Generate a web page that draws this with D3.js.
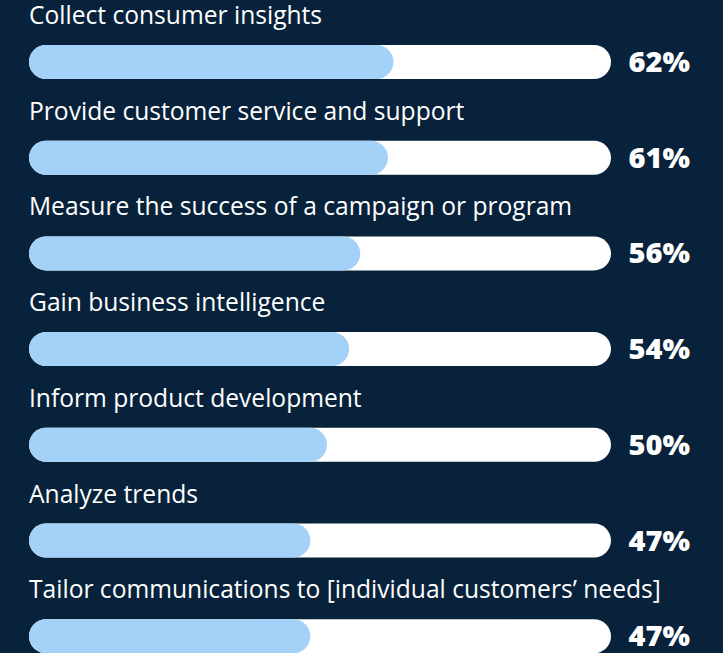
<!DOCTYPE html>
<html>
<head>
<meta charset="utf-8">
<script src="https://cdn.jsdelivr.net/npm/d3@7"></script>
<style>
  html, body { margin: 0; padding: 0; background: #07223a; }
  svg { display: block; }
  .label { fill: #ffffff; font-family: "Open Sans", sans-serif; font-size: 24.6px; }
  .pct { fill: #ffffff; font-family: "Open Sans", sans-serif; font-size: 29px; font-weight: 800; }
</style>
</head>
<body>
<div id="chart"></div>
<script>
// chart values
var labels = [
  "Collect consumer insights",
  "Provide customer service and support",
  "Measure the success of a campaign or program",
  "Gain business intelligence",
  "Inform product development",
  "Analyze trends",
  "Tailor communications to [individual customers\u2019 needs]"
];
var values = [62, 61, 56, 54, 50, 47, 47];

var width = 723,
    height = 653;

var trackLeft = 29,
    trackRight = 611,
    barH = 34;

var svg = d3.select("#chart").append("svg")
    .attr("width", width)
    .attr("height", height);

svg.append("rect")
    .attr("width", width)
    .attr("height", height)
    .attr("fill", "#07223a");

// rows
var y = d3.scaleBand()
    .domain(labels)
    .range([14, 14 + 95.7 * labels.length])
    .paddingInner(0)
    .paddingOuter(0);

var x = d3.scaleLinear()
    .domain([0, 100])
    .range([50, 604]);

var data = labels.map(function(d, i) { return {label: d, value: values[i]}; });

var row = svg.selectAll(".row")
    .data(data)
  .enter().append("g")
    .attr("class", "row")
    .attr("transform", function(d) { return "translate(0," + y(d.label) + ")"; });

// bar centre sits 48px below the top of each band
row.append("rect")
    .attr("x", trackLeft)
    .attr("y", 48 - barH / 2)
    .attr("width", trackRight - trackLeft)
    .attr("height", barH)
    .attr("rx", barH / 2)
    .attr("fill", "#ffffff");

row.append("rect")
    .attr("x", trackLeft)
    .attr("y", 48 - barH / 2)
    .attr("width", function(d) { return x(d.value) - trackLeft; })
    .attr("height", barH)
    .attr("rx", barH / 2)
    .attr("fill", "#a3d1f7");

row.append("text")
    .attr("class", "label")
    .attr("x", 29)
    .attr("y", 10)
    .text(function(d) { return d.label; });

row.append("text")
    .attr("class", "pct")
    .attr("x", 690)
    .attr("y", 58)
    .attr("text-anchor", "end")
    .text(function(d) { return d.value + "%"; });
</script>
</body>
</html>
